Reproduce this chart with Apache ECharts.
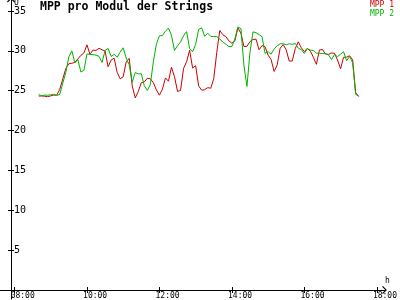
<!DOCTYPE html>
<html>
<head>
<meta charset="utf-8">
<script src="https://cdn.jsdelivr.net/npm/echarts@6/dist/echarts.min.js"></script>
<style>html,body{margin:0;padding:0;background:#fff}#c{width:400px;height:300px}</style>
</head>
<body>
<div id="c"></div>
<script>
const times = ['08:40','08:45','08:50','08:55','09:00','09:05','09:10','09:15','09:20','09:25',
'09:30','09:35','09:40','09:45','09:50','09:55','10:00','10:05','10:10','10:15',
'10:20','10:25','10:30','10:35','10:40','10:45','10:50','10:55','11:00','11:05',
'11:10','11:15','11:20','11:25','11:30','11:35','11:40','11:45','11:50','11:55',
'12:00','12:05','12:10','12:15','12:20','12:25','12:30','12:35','12:40','12:45',
'12:50','12:55','13:00','13:05','13:10','13:15','13:20','13:25','13:30','13:35',
'13:40','13:45','13:50','13:55','14:00','14:05','14:10','14:15','14:20','14:25',
'14:30','14:35','14:40','14:45','14:50','14:55','15:00','15:05','15:10','15:15',
'15:20','15:25','15:30','15:35','15:40','15:45','15:50','15:55','16:00','16:05',
'16:10','16:15','16:20','16:25','16:30','16:35','16:40','16:45','16:50','16:55',
'17:00','17:05','17:10','17:15','17:20','17:25','17:30'];

const mpp1 = [24.33,24.34,24.3,24.25,24.35,24.45,24.44,25.16,26.48,27.78,
28.38,28.44,28.56,28.98,29.44,29.74,30.75,29.56,30.1,30.05,
30.31,30.13,29.98,28.0,28.84,29.08,27.3,26.5,26.75,28.6,
29.05,25.59,24.09,24.9,26.0,26.1,26.56,26.49,26.0,25.1,
24.44,25.19,26.6,26.19,27.94,26.75,24.91,25.03,27.79,28.63,
30.08,27.85,28.13,25.6,25.06,25.14,25.38,25.31,26.5,29.8,
32.55,32.03,31.79,31.26,30.96,31.25,32.88,32.19,30.54,30.56,
31.15,31.43,31.46,30.13,30.65,30.5,29.46,28.9,27.41,28.2,
30.34,30.78,30.13,28.71,28.73,30.29,31.13,30.38,29.91,30.31,
29.96,29.19,28.31,30.1,30.16,29.59,29.55,29.73,29.69,28.85,
27.75,29.19,29.2,29.38,28.88,24.75,24.29];

const mpp2 = [24.5,24.38,24.44,24.44,24.48,24.53,24.41,24.53,25.96,27.3,
29.25,30.0,28.5,28.88,27.34,27.56,29.6,29.56,29.52,29.46,
29.31,28.54,30.05,30.3,29.29,29.56,29.2,29.84,30.38,29.09,
28.25,26.06,27.29,27.11,27.13,25.63,25.03,25.78,28.63,30.84,
31.89,31.91,32.45,32.85,31.95,30.05,30.65,31.1,31.9,32.41,
30.29,29.88,30.81,32.69,32.88,31.83,32.21,31.81,31.79,31.79,
31.48,31.09,30.83,30.54,30.54,31.5,33.0,32.78,28.13,25.54,
29.81,32.38,32.27,32.05,31.75,29.69,29.88,29.59,30.23,30.64,
30.88,30.89,30.76,30.88,30.81,30.93,30.34,30.15,29.68,30.26,
30.09,30.04,29.71,29.69,29.65,29.64,29.5,28.91,29.53,29.28,
29.58,29.89,28.75,29.29,28.54,24.55,24.29];

const seriesNames = ['MPP 1', 'MPP 2'];
const xTickHours = [8, 10, 12, 14, 16, 18];
const yTickValues = [5, 10, 15, 20, 25, 30, 35];
const titleText = 'MPP pro Modul der Strings';

const RED = '#cc0000', GREEN = '#00b400';
const MONO = '"DejaVu Sans Mono", "Liberation Mono", monospace';
const toHours = t => { const p = t.split(':'); return +p[0] + (+p[1]) / 60; };
const pad = n => (n < 10 ? '0' : '') + n;
const PX_PER_H = 37.5;
const X_MIN = 8 - 15 / PX_PER_H;
const X_MAX = X_MIN + 398 / PX_PER_H;
const LABEL_SHIFT = 4 / PX_PER_H;
const Y_MIN = -9 / 8, Y_MAX = 291 / 8;
const chevUp = 'path://M0,5 L5,0 L10,5 L9,6 L5,2 L1,6 Z';

const chart = echarts.init(document.getElementById('c'), null, {renderer: 'canvas'});
const baseX = {
  type: 'value', min: X_MIN, max: X_MAX, position: 'bottom', offset: -9,
  splitLine: {show: false}
};
const baseY = {
  type: 'value', min: Y_MIN, max: Y_MAX, position: 'left', offset: -11,
  splitLine: {show: false}
};
chart.setOption({
  animation: false,
  backgroundColor: '#fff',
  title: {
    text: titleText, left: 40, top: 1, padding: 0,
    textStyle: {fontFamily: MONO, fontWeight: 'bold', fontSize: 11.5, color: '#000'}
  },
  legend: {
    orient: 'vertical', right: 6, top: 1, padding: 0, itemGap: 0,
    itemWidth: 0, itemHeight: 0, icon: 'rect',
    data: [
      {name: seriesNames[0], textStyle: {color: RED}},
      {name: seriesNames[1], textStyle: {color: GREEN}}
    ],
    textStyle: {fontFamily: MONO, fontSize: 8, lineHeight: 8.5, padding: 0}
  },
  grid: {left: 0, right: 2, top: 0, bottom: 0, containLabel: false},
  xAxis: [
    Object.assign({}, baseX, {
      axisLine: {show: true, onZero: false, symbol: ['none', chevUp], symbolSize: [8, 6],
        lineStyle: {color: '#000', width: 1}},
      axisTick: {show: true, inside: false, length: 3, customValues: xTickHours,
        lineStyle: {color: '#000'}},
      axisLabel: {show: true, customValues: xTickHours.map(h => h - LABEL_SHIFT),
        formatter: v => pad(Math.round(v + LABEL_SHIFT)) + ':00',
        align: 'left', margin: 2, fontFamily: MONO, fontSize: 8, color: '#000'}
    }),
    Object.assign({}, baseX, {
      axisLine: {show: false, onZero: false},
      axisTick: {show: true, inside: true, length: 3, customValues: xTickHours,
        lineStyle: {color: '#000'}},
      axisLabel: {show: false}
    })
  ],
  yAxis: [
    Object.assign({}, baseY, {
      axisLine: {show: true, onZero: false, symbol: ['none', chevUp], symbolSize: [8, 6],
        lineStyle: {color: '#000', width: 1}},
      axisTick: {show: true, inside: false, length: 3, customValues: yTickValues,
        lineStyle: {color: '#000'}},
      axisLabel: {show: true, inside: true, margin: 3, customValues: yTickValues,
        fontFamily: MONO, fontSize: 10, color: '#000'}
    }),
    Object.assign({}, baseY, {
      axisLine: {show: false, onZero: false},
      axisTick: {show: true, inside: true, length: 3, customValues: yTickValues,
        lineStyle: {color: '#000'}},
      axisLabel: {show: false}
    })
  ],
  graphic: [
    {type: 'text', left: 14, top: -1, style: {text: 'U', font: '8px ' + MONO, fill: '#000'}},
    {type: 'text', left: 385, top: 277, style: {text: 'h', font: '8px ' + MONO, fill: '#000'}}
  ],
  series: [
    {name: seriesNames[0], type: 'line', showSymbol: false, symbol: 'none',
      color: RED, lineStyle: {color: RED, width: 1},
      data: times.map((t, i) => [toHours(t), mpp1[i]])},
    {name: seriesNames[1], type: 'line', showSymbol: false, symbol: 'none',
      color: GREEN, lineStyle: {color: GREEN, width: 1},
      data: times.map((t, i) => [toHours(t), mpp2[i]])}
  ]
});
</script>
</body>
</html>
